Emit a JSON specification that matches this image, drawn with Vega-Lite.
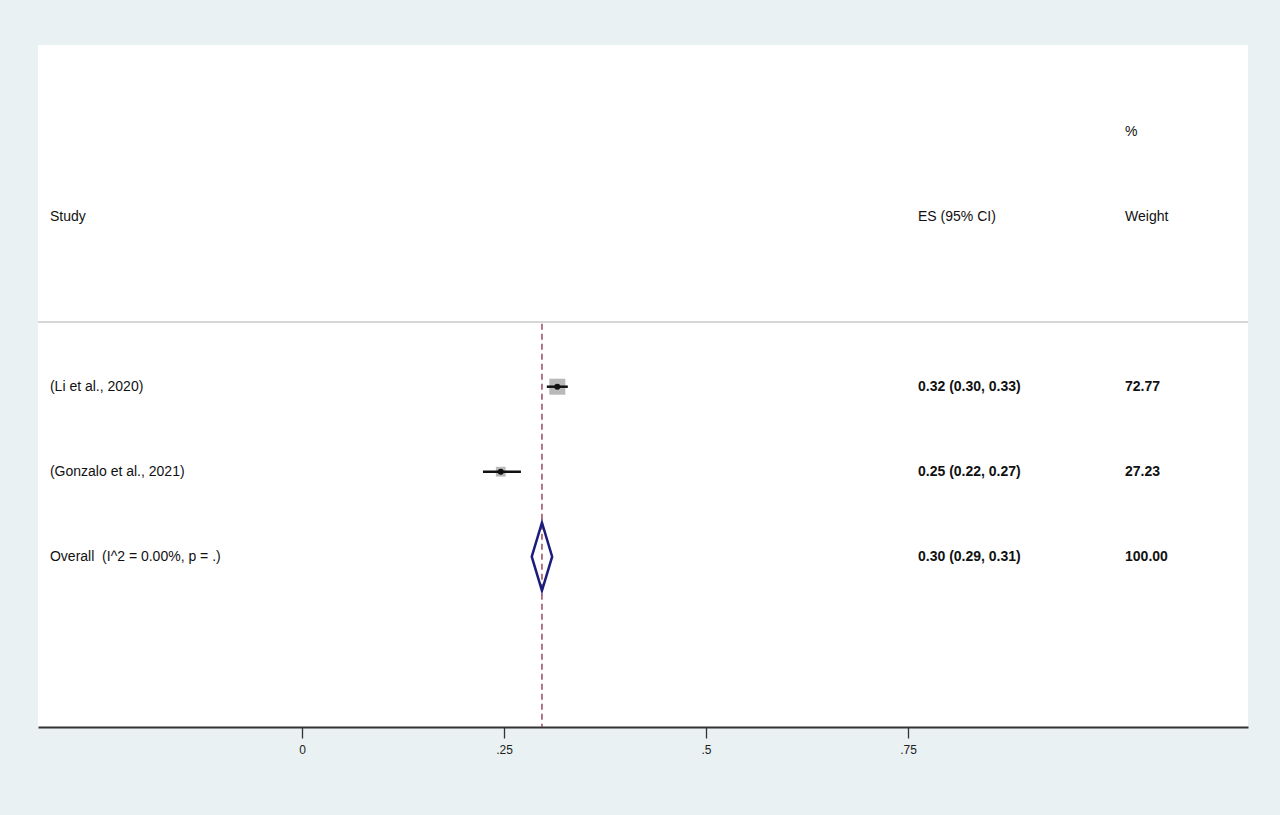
{
  "$schema": "https://vega.github.io/schema/vega-lite/v6.json",
  "description": "Forest plot: pooled effect size from two studies.",
  "width": 1210,
  "height": 682,
  "autosize": {"type": "none"},
  "padding": {"left": 38, "top": 45, "right": 32, "bottom": 88},
  "background": "#e9f1f3",
  "config": {
    "view": {"fill": "white", "stroke": null},
    "font": "Liberation Sans",
    "text": {"font": "Liberation Sans", "fontSize": 14, "color": "#111", "align": "left", "baseline": "middle"}
  },
  "datasets": {
    "studies": [
      {"study": "(Li et al., 2020)", "kind": "study", "es": 0.316, "lo": 0.303, "hi": 0.329, "es_ci": "0.32 (0.30, 0.33)", "weight": "72.77", "w": 72.77, "row": 3},
      {"study": "(Gonzalo et al., 2021)", "kind": "study", "es": 0.246, "lo": 0.224, "hi": 0.271, "es_ci": "0.25 (0.22, 0.27)", "weight": "27.23", "w": 27.23, "row": 4},
      {"study": "Overall \u00a0(I^2 = 0.00%, p = .)", "kind": "overall", "es": 0.297, "lo": 0.284, "hi": 0.309, "es_ci": "0.30 (0.29, 0.31)", "weight": "100.00", "w": 100, "row": 5}
    ],
    "headers": [
      {"label": "%", "column": "weight", "row": 0},
      {"label": "Study", "column": "study", "row": 1},
      {"label": "ES (95% CI)", "column": "es", "row": 1},
      {"label": "Weight", "column": "weight", "row": 1}
    ]
  },
  "data": {"name": "studies"},
  "layer": [
    {
      "data": {"name": "headers"},
      "transform": [{"filter": "datum.row == 1 && datum.column == 'study'"}],
      "mark": {"type": "rule", "color": "#c9c9c9", "strokeWidth": 1.5},
      "encoding": {
        "y": {"datum": 2.24, "type": "quantitative", "axis": null, "scale": {"domain": [-1.02, 7.0035], "reverse": true, "nice": false, "zero": false}}
      }
    },
    {
      "transform": [{"filter": "datum.kind == 'overall'"}],
      "mark": {"type": "rule", "color": "#9a4a5e", "strokeWidth": 1.5, "strokeDash": [6, 4]},
      "encoding": {
        "x": {"field": "es", "type": "quantitative", "scale": {"domain": [-0.3267, 1.1708], "nice": false, "zero": false},
          "axis": {"values": [0, 0.25, 0.5, 0.75], "labelExpr": "datum.value == 0 ? '0' : replace(format(datum.value, '.2~f'), '0.', '.')",
            "title": null, "grid": false, "domainColor": "#333", "domainWidth": 2, "tickColor": "#333", "tickWidth": 1.3, "tickSize": 11,
            "labelFont": "Liberation Sans", "labelFontSize": 12, "labelColor": "#222", "labelPadding": 6}},
        "y": {"datum": 2.26, "type": "quantitative"},
        "y2": {"datum": 7.0035}
      }
    },
    {
      "transform": [{"filter": "datum.kind == 'study'"}],
      "mark": {"type": "square", "filled": true, "color": "#b9b9b9", "opacity": 1},
      "encoding": {
        "x": {"field": "es", "type": "quantitative"},
        "y": {"field": "row", "type": "quantitative"},
        "size": {"field": "w", "type": "quantitative", "scale": {"domain": [0, 100], "range": [0, 352]}, "legend": null}
      }
    },
    {
      "transform": [{"filter": "datum.kind == 'study'"}],
      "mark": {"type": "rule", "color": "#111", "strokeWidth": 2.5},
      "encoding": {
        "x": {"field": "lo", "type": "quantitative"},
        "x2": {"field": "hi"},
        "y": {"field": "row", "type": "quantitative"}
      }
    },
    {
      "transform": [{"filter": "datum.kind == 'study'"}],
      "mark": {"type": "circle", "color": "#111", "size": 36, "opacity": 1},
      "encoding": {
        "x": {"field": "es", "type": "quantitative"},
        "y": {"field": "row", "type": "quantitative"}
      }
    },
    {
      "transform": [{"filter": "datum.kind == 'overall'"}],
      "mark": {"type": "point", "shape": "M-0.3,0L0,-1L0.3,0L0,1Z", "size": 4624, "filled": false, "stroke": "#1c1c7c", "strokeWidth": 2.5, "opacity": 1},
      "encoding": {
        "x": {"field": "es", "type": "quantitative"},
        "y": {"field": "row", "type": "quantitative"}
      }
    },
    {
      "mark": {"type": "text"},
      "encoding": {
        "x": {"datum": -0.3119, "type": "quantitative"},
        "y": {"field": "row", "type": "quantitative"},
        "text": {"field": "study"}
      }
    },
    {
      "mark": {"type": "text", "fontWeight": "bold"},
      "encoding": {
        "x": {"datum": 0.7624, "type": "quantitative"},
        "y": {"field": "row", "type": "quantitative"},
        "text": {"field": "es_ci"}
      }
    },
    {
      "mark": {"type": "text", "fontWeight": "bold"},
      "encoding": {
        "x": {"datum": 1.0186, "type": "quantitative"},
        "y": {"field": "row", "type": "quantitative"},
        "text": {"field": "weight"}
      }
    },
    {
      "data": {"name": "headers"},
      "transform": [{"filter": "datum.column == 'study'"}],
      "mark": {"type": "text"},
      "encoding": {
        "x": {"datum": -0.3119, "type": "quantitative"},
        "y": {"field": "row", "type": "quantitative"},
        "text": {"field": "label"}
      }
    },
    {
      "data": {"name": "headers"},
      "transform": [{"filter": "datum.column == 'es'"}],
      "mark": {"type": "text"},
      "encoding": {
        "x": {"datum": 0.7624, "type": "quantitative"},
        "y": {"field": "row", "type": "quantitative"},
        "text": {"field": "label"}
      }
    },
    {
      "data": {"name": "headers"},
      "transform": [{"filter": "datum.column == 'weight'"}],
      "mark": {"type": "text"},
      "encoding": {
        "x": {"datum": 1.0186, "type": "quantitative"},
        "y": {"field": "row", "type": "quantitative"},
        "text": {"field": "label"},
        "fontWeight": {"condition": {"test": "datum.label == '%'", "value": "bold"}, "value": "normal"}
      }
    }
  ]
}
